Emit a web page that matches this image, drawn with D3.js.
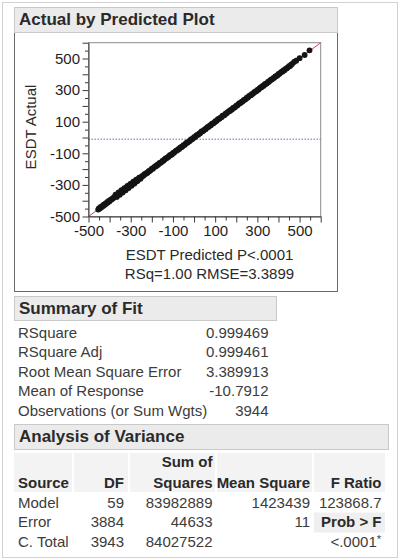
<!DOCTYPE html>
<html lang="en">
<head>
<meta charset="UTF-8">
<script src="https://d3js.org/d3.v7.min.js"></script>
<title>Actual by Predicted Plot</title>
<style>
    body { margin: 0; background: #fff; }
    svg { display: block; font-family: "Liberation Sans", Arial, Helvetica, sans-serif; }
    .hdr rect { fill: #ebebeb; stroke: #c9c9c9; }
    .hdr text { font-weight: bold; font-size: 17px; fill: #2a2a2a; }
    .axis text { font-size: 15px; fill: #1e1e1e; }
    .axis line, .axis path { stroke: #3a3a3a; }
    .lbl { font-size: 15px; fill: #2a2a2a; }
    .cell { font-size: 15px; fill: #3c3c3c; }
    .colhead { font-size: 15px; font-weight: bold; fill: #2a2a2a; }
</style>
</head>
<body>
<div id="chart"></div>
<script>
// ---- data ----
// predicted / actual pairs (ESDT), dense band along the diagonal
const predicted = [
    -454, -451, -447, -444, -440, -436, -432, -428, -424, -420, -416, -412, -408, -404, -400,
    -395, -390, -385, -380,
    -375, -370, -365, -360, -355, -350, -345, -340, -335, -330, -325, -320, -315, -310, -305,
    -300, -295, -290, -285, -280, -275, -270, -265, -260, -255, -250,
    -372, -366, -358, -352, -344, -338, -330, -324, -316, -310, -302, -296, -288, -282, -274,
    -268, -260, -254,
    -245, -240, -235, -230, -225, -220, -215, -210, -205, -200, -195, -190, -185, -180, -175,
    -170, -165, -160, -155, -150, -145, -140, -135, -130, -125, -120, -115, -110, -105, -100,
    -95, -90, -85, -80, -75, -70, -65, -60, -55, -50, -45, -40, -35, -30, -25, -20, -15, -10, -5,
    0, 5, 10, 15, 20, 25, 30, 35, 40, 45, 50, 55, 60, 65, 70, 75, 80, 85, 90, 95,
    100, 105, 110, 115, 120, 125, 130, 135, 140, 145, 150, 155, 160, 165, 170, 175, 180, 185, 190, 195,
    200, 205, 210, 215, 220, 225, 230, 235, 240, 245, 250, 255, 260, 265, 270, 275, 280, 285, 290, 295,
    300, 305, 310, 315, 320, 325, 330, 335, 340, 345, 350, 355, 360, 365, 370, 375, 380, 385, 390, 395,
    400, 405, 410, 415, 420, 425, 430, 435, 440, 445, 450, 455, 460, 465,
    474, 484, 500, 524, 547
];
const actual = [
    -456, -449, -450, -441, -443, -434, -435, -425, -427, -418, -419, -409, -411, -402, -403,
    -393, -392, -384, -382,
    -372, -373, -362, -364, -352, -353, -343, -342, -331, -334, -322, -323, -313, -312, -302,
    -303, -292, -293, -283, -282, -272, -273, -263, -261, -253, -252,
    -362, -376, -348, -362, -334, -348, -321, -334, -307, -320, -294, -305, -280, -291, -267,
    -276, -254, -261,
    -243, -242, -232, -231, -224, -223, -213, -212, -205, -197, -197, -189, -183, -182, -174,
    -172, -162, -161, -157, -148, -147, -139, -133, -132, -124, -122, -112, -111, -107, -98,
    -97, -89, -83, -82, -74, -72, -62, -61, -57, -48, -47, -39, -33, -32, -24, -22, -12, -11, -7,
    2, 3, 11, 17, 18, 26, 28, 38, 39, 43, 52, 53, 61, 67, 68, 76, 78, 88, 89, 93,
    102, 103, 111, 117, 118, 126, 128, 138, 139, 143, 152, 153, 161, 167, 168, 176, 178, 188, 189, 193,
    202, 203, 211, 217, 218, 226, 228, 237, 239, 243, 252, 253, 261, 267, 268, 276, 278, 287, 289, 293,
    302, 303, 311, 317, 318, 326, 328, 337, 339, 343, 352, 353, 361, 366, 368, 376, 378, 386, 389, 393,
    402, 403, 411, 416, 418, 426, 428, 436, 439, 444, 451, 453, 461, 466,
    478, 486, 502, 522, 552
];
const meanResponse = -10.7912;
const axisDomain = [-500, 600];
const labeledTicks = [-500, -300, -100, 100, 300, 500];

const fitLabels = ["RSquare", "RSquare Adj", "Root Mean Square Error", "Mean of Response", "Observations (or Sum Wgts)"];
const fitValues = ["0.999469", "0.999461", "3.389913", "-10.7912", "3944"];

const anovaSource = ["Model", "Error", "C. Total"];
const anovaDF = ["59", "3884", "3943"];
const anovaSS = ["83982889", "44633", "84027522"];
const anovaMS = ["1423439", "11", ""];
const fRatio = "123868.7";
const probF = "<.0001";

// ---- layout ----
const W = 400, H = 560;
const svg = d3.select("#chart").append("svg").attr("width", W).attr("height", H);

// page border
svg.append("rect").attr("x", 2.5).attr("y", 2.5).attr("width", 395).attr("height", 555)
    .attr("fill", "none").attr("stroke", "#d2d2d2");

const header = (x, y, w, h, label, base) => {
    const g = svg.append("g").attr("class", "hdr");
    g.append("rect").attr("x", x).attr("y", y).attr("width", w).attr("height", h);
    g.append("text").attr("x", x + 4.5).attr("y", base).text(label);
};

// ---- Actual by Predicted panel ----
svg.append("rect").attr("x", 14.5).attr("y", 32.5).attr("width", 323).attr("height", 259)
    .attr("fill", "none").attr("stroke", "#6a6a6a");
header(14.5, 7.5, 323, 25, "Actual by Predicted Plot", 25);

const x = d3.scaleLinear().domain(axisDomain).range([88.5, 320.7]);
const y = d3.scaleLinear().domain(axisDomain).range([216.5, 42.7]);
const allTicks = d3.range(axisDomain[0], axisDomain[1] + 1, 50);
const fmt = d => labeledTicks.includes(d) ? d : "";

svg.append("rect").attr("x", x(axisDomain[0])).attr("y", y(axisDomain[1]))
    .attr("width", x(axisDomain[1]) - x(axisDomain[0]))
    .attr("height", y(axisDomain[0]) - y(axisDomain[1]))
    .attr("fill", "#fff").attr("stroke", "#8a8a8a");

// mean line
svg.append("line")
    .attr("x1", x(axisDomain[0])).attr("x2", x(axisDomain[1]))
    .attr("y1", y(meanResponse)).attr("y2", y(meanResponse))
    .attr("stroke", "#5b6fc8").attr("stroke-width", 1).attr("stroke-dasharray", "1.5,1.5");

// fit line
svg.append("line")
    .attr("x1", x(axisDomain[0])).attr("y1", y(axisDomain[0]))
    .attr("x2", x(axisDomain[1])).attr("y2", y(axisDomain[1]))
    .attr("stroke", "#d8404e").attr("stroke-width", 1);

svg.append("g").selectAll("circle")
    .data(predicted.map((p, i) => [p, actual[i]]))
    .join("circle")
    .attr("cx", d => x(d[0]))
    .attr("cy", d => y(d[1]))
    .attr("r", 2.9)
    .attr("fill", "#141414");

const xAxis = svg.append("g").attr("class", "axis")
    .attr("transform", `translate(0,${y(axisDomain[0])})`)
    .call(d3.axisBottom(x).tickValues(allTicks).tickFormat(fmt).tickSizeOuter(0));
xAxis.selectAll(".tick line").attr("y2", d => d % 100 === 0 ? 6 : 4);
xAxis.selectAll(".tick text").attr("y", 9);

const yAxis = svg.append("g").attr("class", "axis")
    .attr("transform", `translate(${x(axisDomain[0])},0)`)
    .call(d3.axisLeft(y).tickValues(allTicks).tickFormat(fmt).tickSizeOuter(0));
yAxis.selectAll(".tick line").attr("x2", d => d % 100 === 0 ? -6 : -3.5);
yAxis.selectAll(".tick text").attr("x", -8.5);

svg.append("text").attr("class", "lbl")
    .attr("transform", "translate(36,127) rotate(-90)")
    .attr("text-anchor", "middle").text("ESDT Actual");
svg.append("text").attr("class", "lbl").attr("x", 209.5).attr("y", 260)
    .attr("text-anchor", "middle").text("ESDT Predicted P<.0001");
svg.append("text").attr("class", "lbl").attr("x", 209.5).attr("y", 278.5)
    .attr("text-anchor", "middle").text("RSq=1.00 RMSE=3.3899");

// ---- Summary of Fit ----
header(14.5, 296.5, 262, 24, "Summary of Fit", 314);
const fit = svg.append("g");
fit.selectAll("text.name").data(fitLabels).join("text")
    .attr("class", "cell name").attr("x", 18).attr("y", (d, i) => 337.5 + i * 19.6).text(d => d);
fit.selectAll("text.val").data(fitValues).join("text")
    .attr("class", "cell val").attr("x", 268.5).attr("y", (d, i) => 337.5 + i * 19.6)
    .attr("text-anchor", "end").text(d => d);

// ---- Analysis of Variance ----
header(14.5, 424.5, 374, 25, "Analysis of Variance", 441.5);

const cols = [
    { x0: 14, x1: 72 },
    { x0: 74, x1: 128 },
    { x0: 130, x1: 215 },
    { x0: 217, x1: 312 },
    { x0: 314, x1: 385 }
];
svg.append("g").selectAll("rect").data(cols).join("rect")
    .attr("x", d => d.x0).attr("y", 453).attr("width", d => d.x1 - d.x0).attr("height", 39)
    .attr("fill", "#f3f3f3");
svg.append("rect").attr("x", 314).attr("y", 512.5).attr("width", 71).attr("height", 20)
    .attr("fill", "#efefef");

const hb = 487.5;
svg.append("text").attr("class", "colhead").attr("x", 18).attr("y", hb).text("Source");
svg.append("text").attr("class", "colhead").attr("x", 124).attr("y", hb).attr("text-anchor", "end").text("DF");
svg.append("text").attr("class", "colhead").attr("x", 212.5).attr("y", 467).attr("text-anchor", "end").text("Sum of");
svg.append("text").attr("class", "colhead").attr("x", 212.5).attr("y", hb).attr("text-anchor", "end").text("Squares");
svg.append("text").attr("class", "colhead").attr("x", 310).attr("y", hb).attr("text-anchor", "end").text("Mean Square");
svg.append("text").attr("class", "colhead").attr("x", 381.5).attr("y", hb).attr("text-anchor", "end").text("F Ratio");

const rowY = i => 507.5 + i * 19.7;
const tbl = svg.append("g");
tbl.selectAll("text.src").data(anovaSource).join("text")
    .attr("class", "cell src").attr("x", 18).attr("y", (d, i) => rowY(i)).text(d => d);
[[anovaDF, 124], [anovaSS, 212.5], [anovaMS, 310]].forEach(([vals, r], k) => {
    tbl.selectAll("text.c" + k).data(vals).join("text")
        .attr("class", "cell c" + k).attr("x", r).attr("y", (d, i) => rowY(i))
        .attr("text-anchor", "end").text(d => d);
});
tbl.append("text").attr("class", "cell").attr("x", 381.5).attr("y", rowY(0))
    .attr("text-anchor", "end").text(fRatio);
tbl.append("text").attr("class", "colhead").attr("x", 381.5).attr("y", rowY(1))
    .attr("text-anchor", "end").text("Prob > F");
const pt = tbl.append("text").attr("class", "cell").attr("x", 381).attr("y", rowY(2))
    .attr("text-anchor", "end");
pt.append("tspan").text(probF);
pt.append("tspan").attr("dy", -4).attr("font-size", 11).text("*");
</script>
</body>
</html>
